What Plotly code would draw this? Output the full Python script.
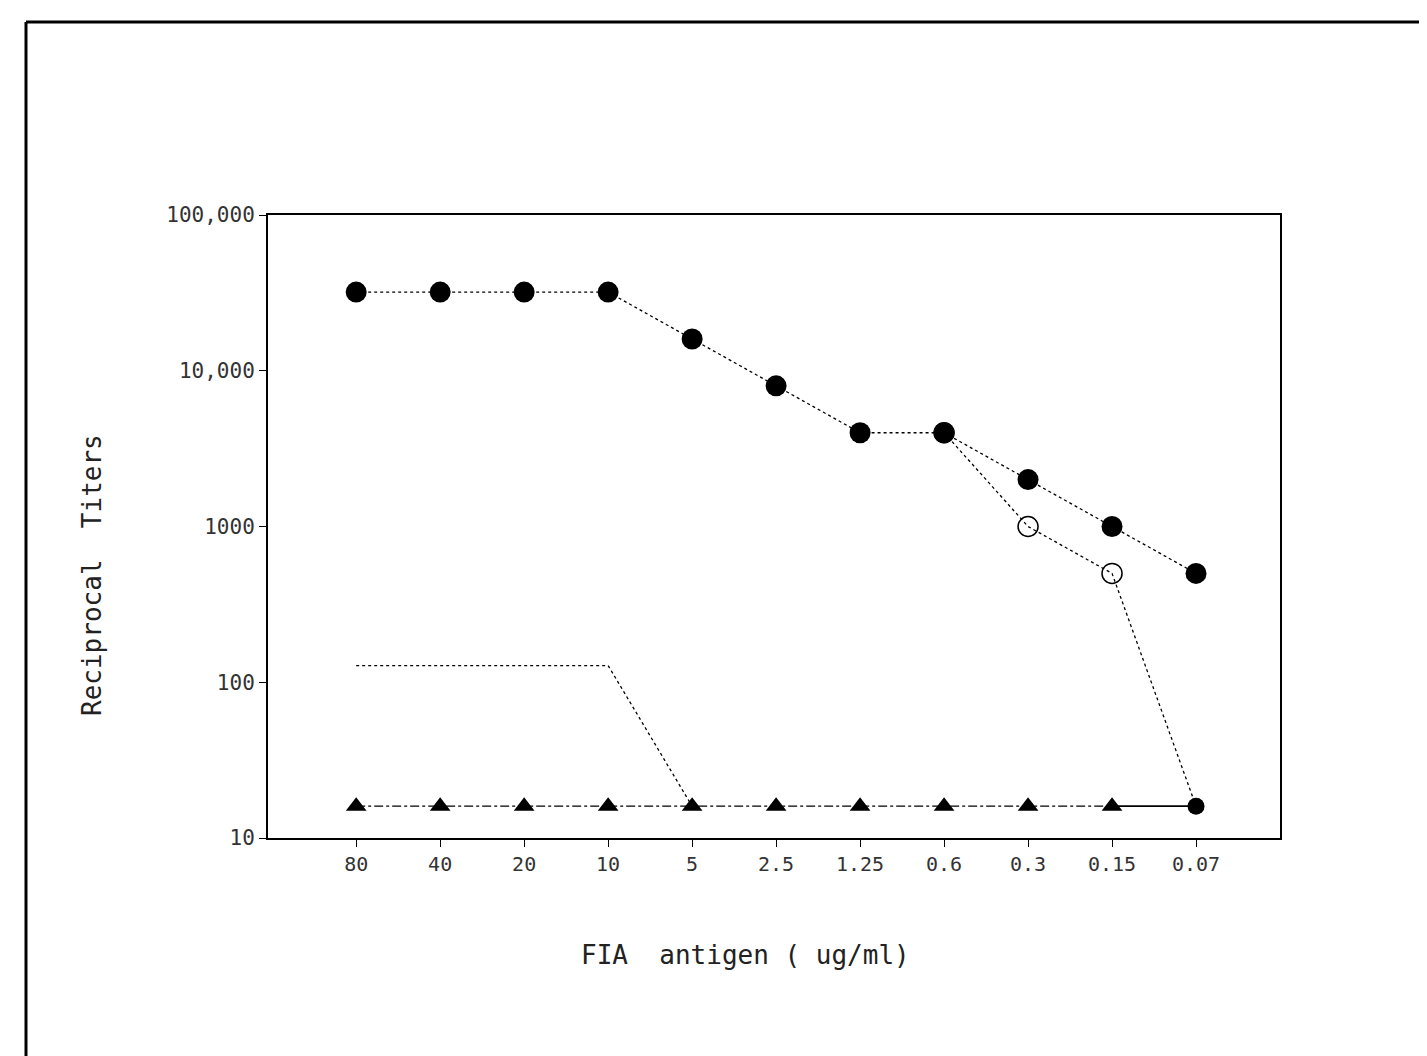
import plotly.graph_objects as go

# ---- data ----
antigen_labels = ["80", "40", "20", "10", "5", "2.5", "1.25", "0.6", "0.3", "0.15", "0.07"]
filled_circles = [32000, 32000, 32000, 32000, 16000, 8000, 4000, 4000, 2000, 1000, 500]
open_circles = [None, None, None, None, None, None, None, 4000, 1000, 500, 16]
plain_line = [128, 128, 128, 128, 16, None, None, None, None, None, None]
triangles = [16, 16, 16, 16, 16, 16, 16, 16, 16, 16, None]
y_tick_vals = [10, 100, 1000, 10000, 100000]
y_tick_text = ["10", "100", "1000", "10,000", "100,000"]

xs = list(range(len(antigen_labels)))

fig = go.Figure()
fig.add_trace(go.Scatter(x=xs, y=plain_line, mode="lines",
                         line=dict(color="black", width=1.3, dash="dot"),
                         showlegend=False, connectgaps=False))
fig.add_trace(go.Scatter(x=xs[:-1], y=triangles[:-1], mode="lines+markers",
                         line=dict(color="black", width=1.3, dash="dashdot"),
                         marker=dict(symbol="triangle-up", size=18, color="black"),
                         showlegend=False))
fig.add_trace(go.Scatter(x=[xs[-2], xs[-1]], y=[triangles[-2], open_circles[-1]], mode="lines",
                         line=dict(color="black", width=1.8),
                         showlegend=False))
fig.add_trace(go.Scatter(x=xs[:-1], y=open_circles[:-1], mode="markers",
                         marker=dict(symbol="circle-open", size=20, color="black",
                                     line=dict(width=1.5, color="black")),
                         showlegend=False))
fig.add_trace(go.Scatter(x=xs, y=open_circles, mode="lines",
                         line=dict(color="black", width=1.3, dash="dot"),
                         showlegend=False))
fig.add_trace(go.Scatter(x=[xs[-1]], y=[open_circles[-1]], mode="markers",
                         marker=dict(symbol="circle", size=17, color="black"),
                         showlegend=False))
fig.add_trace(go.Scatter(x=xs, y=filled_circles, mode="lines+markers",
                         line=dict(color="black", width=1.3, dash="dot"),
                         marker=dict(symbol="circle", size=21, color="black"),
                         showlegend=False))

W, H = 1427, 1056
OFF = 8  # page offset
L, R, T, B = 260, 155, 207, 226
pw, ph = W - L - R, H - T - B

def px(x):
    return (x - OFF - L) / pw

def py(y):
    return (H - B - (y - OFF)) / ph

FONT = "DejaVu Sans Mono"

fig.update_layout(
    width=W, height=H,
    margin=dict(l=L, r=R, t=T, b=B),
    paper_bgcolor="white", plot_bgcolor="white",
    font=dict(family=FONT, color="#222", size=20),
    xaxis=dict(range=[-1.05, 11.0], tickmode="array", tickvals=xs, ticktext=antigen_labels,
               showgrid=False, zeroline=False, showline=True, linecolor="black", linewidth=2,
               mirror=True, ticks="outside", ticklen=7, tickcolor="black",
               tickfont=dict(family=FONT, size=20, color="#333")),
    yaxis=dict(type="log", range=[1, 5], tickmode="array", tickvals=y_tick_vals, ticktext=y_tick_text,
               showgrid=False, zeroline=False, showline=True, linecolor="black", linewidth=2,
               mirror=True, ticks="outside", ticklen=7, tickcolor="black",
               tickfont=dict(family=FONT, size=21, color="#333")),
    annotations=[
        dict(text="FIA  antigen ( ug/ml)", xref="paper", yref="paper", x=px(745), y=py(955),
             showarrow=False, xanchor="center", yanchor="middle",
             font=dict(family=FONT, size=26, color="#222")),
        dict(text="Reciprocal  Titers", xref="paper", yref="paper", x=px(92), y=py(575),
             showarrow=False, xanchor="center", yanchor="middle", textangle=-90,
             font=dict(family=FONT, size=26, color="#222")),
    ],
    shapes=[
        dict(type="line", xref="paper", yref="paper", x0=px(26), x1=px(1440), y0=py(22), y1=py(22),
             line=dict(color="black", width=3)),
        dict(type="line", xref="paper", yref="paper", x0=px(26), x1=px(26), y0=py(22), y1=py(1070),
             line=dict(color="black", width=3)),
    ],
)

fig.write_html("out.html")
